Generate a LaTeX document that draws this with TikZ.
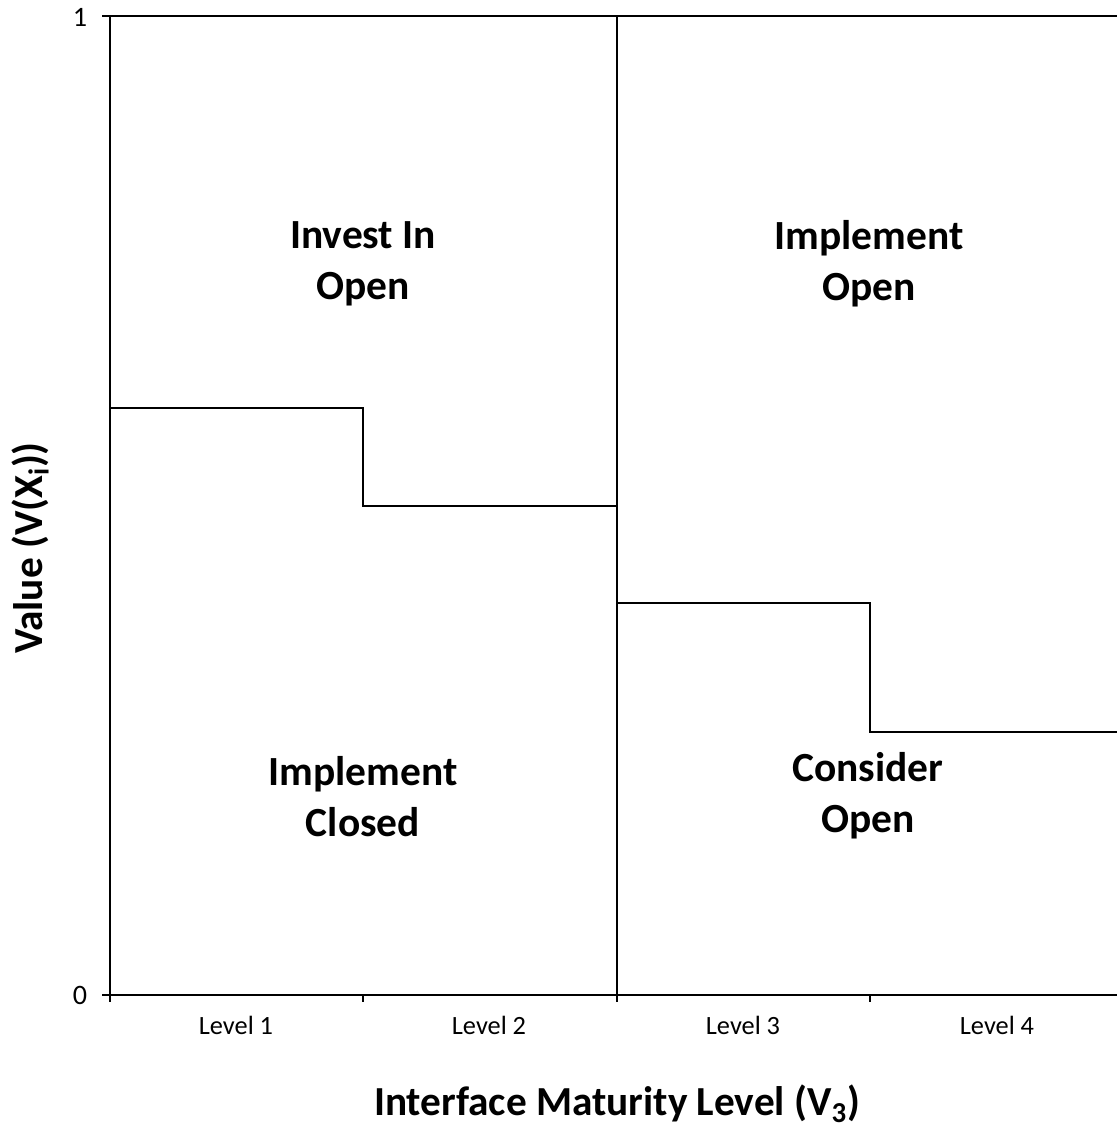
\documentclass[tikz,border=0pt]{standalone}
\usepackage{fontspec}
\setmainfont{Carlito}
\usepackage{tikz}
\tikzset{
    region_label/.style = {align=center, inner sep=0pt, font=\bfseries\fontsize{23.6}{29}\selectfont},
    level_label/.style = {inner sep=0pt, font=\fontsize{15}{17}\selectfont},
    tick_label/.style = {inner sep=0pt, font=\fontsize{16}{18}\selectfont},
    axis_title/.style = {inner sep=0pt, font=\bfseries\fontsize{23.5}{27}\selectfont},
    plot_line/.style = {line width=1.2pt, line cap=rect}
}

\begin{document}
\begin{tikzpicture}[x=0.02cm, y=-0.02cm]
    \useasboundingbox (0,0) rectangle (1116,1128);
    % frame corners
    \coordinate (top_left) at (110,16);
    \coordinate (bottom_left) at (110,995);
    \coordinate (top_mid) at (617,16);
    \coordinate (bottom_mid) at (617,995);
    % axes and border
    \draw[plot_line] (103,16) -- (1116,16);
    \draw[plot_line] (103,995) -- (1116,995);
    \draw[plot_line] (top_left) -- (110,1001);
    \draw[plot_line] (top_mid) -- (617,1001);
    \foreach \x in {363,870}
        \draw[plot_line] (\x,995) -- (\x,1001);
    % thresholds
    \draw[plot_line] (110,408) -- (363,408) -- (363,506) -- (617,506);
    \draw[plot_line] (617,603) -- (870,603) -- (870,732) -- (1116,732);
    % tick labels
    \node[tick_label] (one) at (80,17) {1};
    \node[tick_label] (zero) at (80,995) {0};
    \node[level_label] (lvl1) at (236,1025) {Level 1};
    \node[level_label] (lvl2) at (489,1025) {Level 2};
    \node[level_label] (lvl3) at (743,1025) {Level 3};
    \node[level_label] (lvl4) at (997,1025) {Level 4};
    % regions
    \node[region_label] (invest) at (363,264) {Invest In\\Open};
    \node[region_label] (impl_open) at (869,264) {Implement\\Open};
    \node[region_label] (impl_closed) at (363,797) {Implement\\Closed};
    \node[region_label] (consider) at (868,796) {Consider\\Open};
    % axis titles
    \node[axis_title] (xtitle) at (617,1104) {Interface Maturity Level (V\textsubscript{3})};
    \node[axis_title, rotate=90] (ytitle) at (30,548) {Value (V(X\textsubscript{i}))};
\end{tikzpicture}
\end{document}
